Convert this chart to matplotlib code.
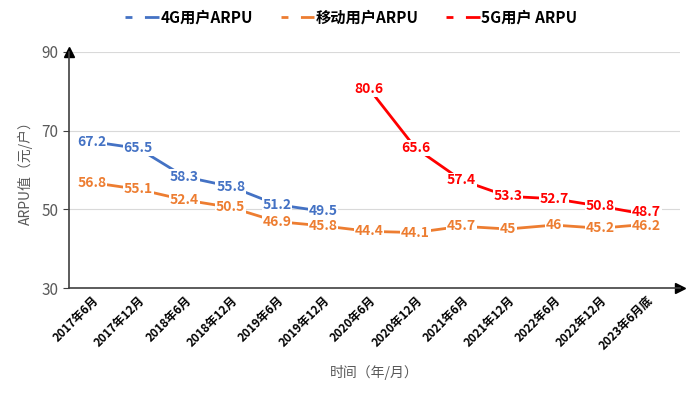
import matplotlib
matplotlib.use("Agg")
import matplotlib.pyplot as plt
from matplotlib.lines import Line2D

plt.rcParams['font.family'] = ['Noto Sans CJK SC', 'DejaVu Sans']

categories = ["2017年6月", "2017年12月", "2018年6月", "2018年12月", "2019年6月", "2019年12月",
              "2020年6月", "2020年12月", "2021年6月", "2021年12月", "2022年6月", "2022年12月", "2023年6月底"]
arpu_4g = [67.2, 65.5, 58.3, 55.8, 51.2, 49.5]
arpu_mobile = [56.8, 55.1, 52.4, 50.5, 46.9, 45.8, 44.4, 44.1, 45.7, 45, 46, 45.2, 46.2]
arpu_5g = [80.6, 65.6, 57.4, 53.3, 52.7, 50.8, 48.7]
yticks = [30, 50, 70, 90]

c4g = "#4472C4"
cmob = "#ED7D31"
c5g = "#FF0000"

fig = plt.figure(figsize=(7, 3.96), dpi=100)
ax = fig.add_axes([0.0986, 0.2727, 0.873, 0.596])

x_all = list(range(len(categories)))
x4 = x_all[:len(arpu_4g)]
x5 = x_all[len(categories) - len(arpu_5g):]

ax.plot(x4, arpu_4g, color=c4g, lw=2, zorder=2)
ax.plot(x_all, arpu_mobile, color=cmob, lw=2, zorder=2)
ax.plot(x5, arpu_5g, color=c5g, lw=2, zorder=2)

def labels(xs, ys, color, z, last_dy=0):
    for i, (x, y) in enumerate(zip(xs, ys)):
        dy = last_dy if i == len(xs) - 1 else 0
        ax.annotate(f"{y:g}", (x, y), xytext=(0, dy), textcoords='offset points',
                    color=color, fontsize=10, fontweight='bold',
                    ha='center', va='center', zorder=z,
                    bbox=dict(boxstyle='square,pad=0.05', fc='white', ec='none'))

labels(x4, arpu_4g, c4g, 3)
labels(x_all, arpu_mobile, cmob, 3, last_dy=-1.5)
labels(x5, arpu_5g, c5g, 4, last_dy=1.5)

ax.set_xlim(-0.5, len(categories) - 0.27)
ax.set_ylim(30, 90)
ax.set_yticks(yticks)
ax.set_yticklabels([str(v) for v in yticks], color="#595959", fontsize=11)
ax.set_xticks(x_all)
ax.set_xticklabels(categories, rotation=45, ha='right', rotation_mode='anchor',
                   fontsize=8.5, fontweight='bold', color='black')
ax.tick_params(axis='x', length=0, pad=4)
ax.tick_params(axis='y', length=4, color='#404040', direction='out')
ax.grid(axis='y', color='#D9D9D9', lw=0.8, zorder=0)
ax.set_axisbelow(True)
for s in ['top', 'right']:
    ax.spines[s].set_visible(False)
for s in ['left', 'bottom']:
    ax.spines[s].set_color('#404040')
    ax.spines[s].set_linewidth(1.2)
ax.plot(0, 1, marker='^', color='black', ms=7, transform=ax.transAxes, clip_on=False)
ax.plot(1, 0, marker='>', color='black', ms=7, transform=ax.transAxes, clip_on=False)

ax.set_ylabel("ARPU值（元/户）", color="#595959", fontsize=10, labelpad=6)
fig.text(0.535, 0.06, "时间（年/月）", color="#595959", fontsize=10, ha='center', va='center')

dash = (0, (2.5, 4.5, 7, 20))
handles = [Line2D([0], [0], color=c4g, lw=2, ls=dash),
           Line2D([0], [0], color=cmob, lw=2, ls=dash),
           Line2D([0], [0], color=c5g, lw=2, ls=dash)]
fig.legend(handles, ["4G用户ARPU", "移动用户ARPU", "5G用户 ARPU"], loc='center',
           bbox_to_anchor=(0.502, 0.955), ncol=3, frameon=False, handlelength=2.2,
           handletextpad=0.1, columnspacing=1.8,
           prop={'weight': 'bold', 'size': 11})

fig.savefig("out.png", dpi=100)
